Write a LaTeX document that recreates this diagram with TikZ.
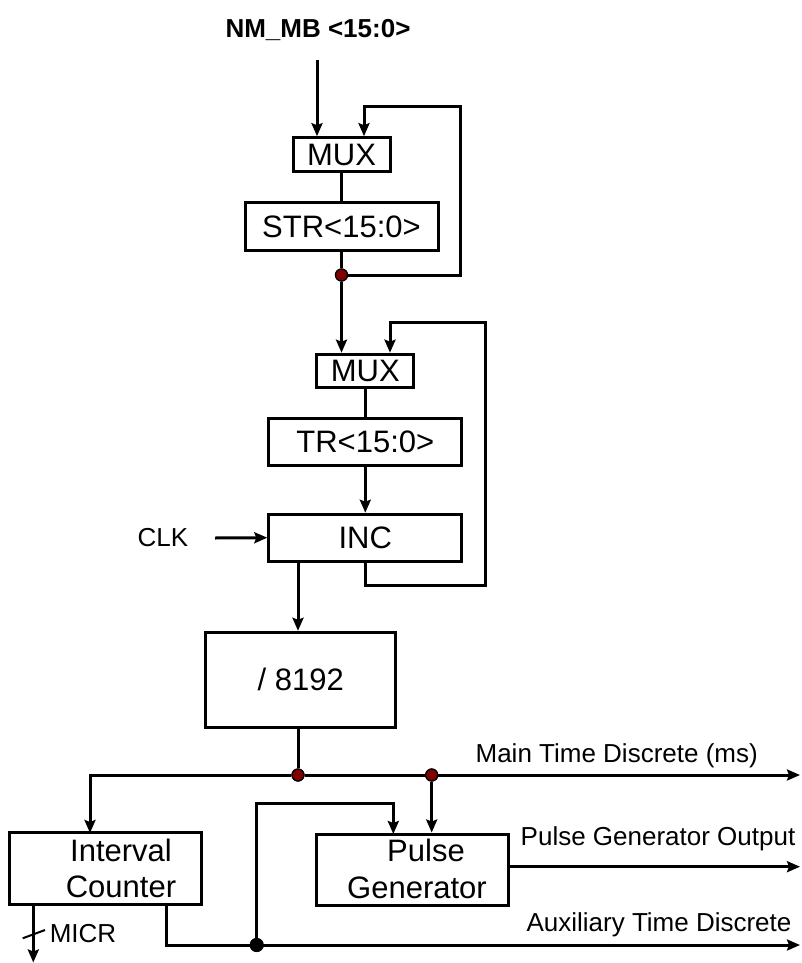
\documentclass[tikz,border=0pt]{standalone}
\usepackage{fontspec}
\setmainfont{Liberation Sans}
\usetikzlibrary{arrows.meta,calc}
\definecolor{joint}{HTML}{800000}
\begin{document}
\begin{tikzpicture}[x=1pt,y=-1pt,
  wire/.style={line width=3pt},
  arr/.style={wire,-{Stealth[length=13pt,width=11pt,inset=2pt]}},
  box/.style={draw,line width=3pt,inner sep=0pt,font=\fontsize{31}{36.7}\selectfont},
  lbl/.style={inner sep=0pt,font=\fontsize{26}{31}\selectfont},
  jdot/.style={circle,draw=black,line width=1.2pt,fill=joint,minimum size=12pt,inner sep=0pt},
  bdot/.style={circle,fill=black,minimum size=14pt,inner sep=0pt}]
\useasboundingbox (0,0) rectangle (801,963);

% register chain
\node[lbl,font=\bfseries\fontsize{26}{31}\selectfont] (nm) at (318,30) {NM\_MB <15:0>};
\node[box,minimum width=97pt,minimum height=34pt] (mux1) at (341.5,154.7) {MUX};
\node[box,minimum width=193pt,minimum height=48pt] (str) at (341.5,226.5) {STR<15:0>};
\node[jdot] (d1) at (341.5,275) {};
\node[box,minimum width=97pt,minimum height=33pt] (mux2) at (365.3,370.7) {MUX};
\node[box,minimum width=193pt,minimum height=47pt] (tr) at (365.3,442) {TR<15:0>};
\node[box,minimum width=193pt,minimum height=47pt] (inc) at (365.3,537.7) {INC};
\node[lbl] (clk) at (163,538) {CLK};
\node[box,minimum width=190pt,minimum height=95pt] (div) at (300.8,679.8) {/ 8192};

% outputs
\node[jdot] (d2) at (298,775) {};
\node[jdot] (d3) at (431.7,775) {};
\node[box,minimum width=191.7pt,minimum height=71.5pt] (ic) at (105.8,868.5) {};
\node[box,minimum width=191.6pt,minimum height=71pt] (pg) at (412.5,869.5) {};
\node[lbl,font=\fontsize{31}{36.7}\selectfont,align=center] (ict) at (121,868.5) {Interval\\Counter};
\node[lbl,font=\fontsize{31}{36.7}\selectfont,align=center] (pgt) at (417,869) {\hspace*{18pt}Pulse\\Generator};
\node[bdot] (d4) at (256.7,945) {};
\node[lbl] (l1) at (616.7,756) {Main Time Discrete (ms)};
\node[lbl] (l2) at (658,838.3) {Pulse Generator Output};
\node[lbl] (l3) at (659,925) {Auxiliary Time Discrete};
\node[lbl] (l4) at (83,933.3) {MICR};

% free ends
\coordinate (in0) at (317,60);
\coordinate (fb1) at (460.7,106.7);
\coordinate (fb2a) at (485,585.7);
\coordinate (fb2b) at (485,322.7);
\coordinate (clkin) at (215,538);
\coordinate (icin) at (90,833);
\coordinate (out1) at (800,775);
\coordinate (out2) at (800,866.7);
\coordinate (out3) at (800,945);
\coordinate (icout) at (166.7,904);
\coordinate (pgin) at (393.3,834);
\coordinate (micr) at (33.3,904);
\coordinate (micrend) at (33.3,962.5);
\coordinate (sl1) at (22.7,938.3);
\coordinate (sl2) at (45,930);

% first stage
\draw[arr] (in0) -- (in0 |- mux1.north);
\draw[wire] (mux1.south) -- (str.north);
\draw[wire] (str.south) -- (d1);
\draw[arr] (d1) -| (fb1) -| ($(mux1.north)+(22.5,0)$);
\draw[arr] (d1) -- (d1 |- mux2.north);

% second stage
\draw[wire] (mux2.south) -- (tr.north);
\draw[arr] (tr.south) -- (inc.north);
\draw[arr] (clkin) -- (inc.west);
\draw[arr] (inc.south) -- (inc.south |- fb2a) -- (fb2a) -- (fb2b) -| ($(mux2.north)+(24.7,0)$);
\draw[arr] (inc.south -| d2) -- (div.north -| d2);
\draw[wire] (div.south -| d2) -- (d2);

% distribution
\draw[arr] (d2) -| (icin);
\draw[arr] (d2) -- (out1);
\draw[arr] (d3) -- (d3 |- pg.north);
\draw[arr] (pg.east |- out2) -- (out2);
\draw[arr] (icout) |- (out3);
\draw[arr] (d4) |- ($(pgin)+(0,-30.7)$) -- (pgin);
\draw[arr] (micr) -- (micrend);
\draw[line width=2pt] (sl1) -- (sl2);
\node[jdot] at (d1) {};
\node[jdot] at (d2) {};
\node[jdot] at (d3) {};
\node[bdot] at (d4) {};
\end{tikzpicture}
\end{document}
